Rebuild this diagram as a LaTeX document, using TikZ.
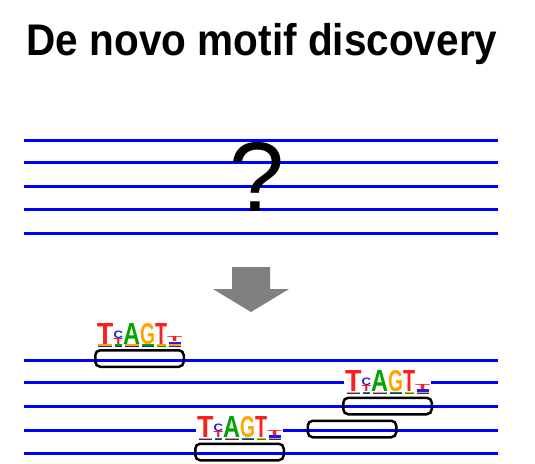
\documentclass[tikz,border=0pt]{standalone}
\usepackage{fontspec}
\setmainfont{Liberation Sans}
\usetikzlibrary{positioning}
\definecolor{seqblue}{RGB}{0,0,255}
\definecolor{logored}{RGB}{255,30,30}
\definecolor{logoblue}{RGB}{30,30,230}
\definecolor{logogreen}{RGB}{0,165,0}
\definecolor{logoorange}{RGB}{255,165,0}
\definecolor{arrowgray}{RGB}{128,128,128}
% one letter of the logo, stretched to width x height
\newcommand{\logoletter}[4]{\hbox{\resizebox{#2pt}{#3pt}{\textcolor{#1}{\bfseries #4}}}}
% thin band of tiny letters under the logo
\newcommand{\logoband}[3]{\hbox to #1pt{\hfil\textcolor{#2}{\rule{\dimexpr#1pt-3pt\relax}{1.2pt}}\hfil}%
  \hbox to #1pt{\hfil\textcolor{#3}{\rule{\dimexpr#1pt-3pt\relax}{1.3pt}}\hfil}}
\newcommand{\logocolumn}[1]{\vbox{\offinterlineskip #1}}
\newcommand{\motiflogo}{%
  \logocolumn{\logoletter{logored}{16.5}{21}{T}\logoband{16.5}{logoorange}{logoblue}}%
  \logocolumn{\logoletter{logoblue}{9.5}{7.5}{C}\logoletter{logored}{9.5}{6}{T}\logoband{9.5}{logogreen}{logoblue}}%
  \logocolumn{\logoletter{logogreen}{17}{21}{A}\logoband{17}{logoorange}{logoblue}}%
  \logocolumn{\logoletter{logoorange}{15}{21}{G}\logoband{15}{logogreen}{logoblue}}%
  \logocolumn{\logoletter{logored}{12}{21}{T}\logoband{12}{logoorange}{logogreen}}%
  \logocolumn{\logoletter{logored}{15}{5}{T}\logoband{15}{logoblue}{logoblue}\logoband{15}{logoorange}{logoblue}}%
}
\tikzset{
  seqline/.style={
    draw=seqblue,
    line width=3pt
  },
  sitebox/.style={
    rectangle,
    rounded corners=5pt,
    draw=black,
    line width=2.5pt,
    minimum width=88.5pt,
    minimum height=16.5pt,
    inner sep=0pt
  },
  logo/.style={
    rectangle,
    fill=white,
    inner xsep=1pt,
    inner ysep=0pt
  },
  bigarrow/.style={
    fill=arrowgray,
    draw=none
  }
}
\begin{document}
\begin{tikzpicture}[x=1pt,y=-1pt]
  \useasboundingbox (0,0) rectangle (535,463);
  \node[font=\bfseries\fontsize{44.3}{50}\selectfont, anchor=base, inner sep=0pt] (title) at (262,55) {\scalebox{0.915}[1]{De novo motif discovery}};

  % unaligned sequences
  \foreach \y in {140.7,162.5,186.3,209.3,233.3}
    \draw[seqline] (24,\y) -- (497.5,\y);
  \node[font=\fontsize{99}{110}\selectfont, anchor=base, inner sep=0pt] (question) at (257,211) {?};

  \fill[bigarrow] (232,267) -- (270,267) -- (270,289) -- (289,289) -- (251,312)
    -- (213,289) -- (232,289) -- cycle;

  % sequences with the found sites
  \foreach \y in {360.3,382.3,406.3,430.3,453.3}
    \draw[seqline] (24,\y) -- (497.5,\y);

  \node[sitebox] (boxA) at (139.5,358.5) {};
  \node[sitebox] (boxB) at (387.5,406) {};
  \node[sitebox] (boxC) at (352,429) {};
  \node[sitebox] (boxD) at (239.5,452) {};

  \node[logo, above=2pt of boxA] (logoA) {\motiflogo};
  \node[logo, above=2pt of boxB] (logoB) {\motiflogo};
  \node[logo, above=2pt of boxD] (logoD) {\motiflogo};
\end{tikzpicture}
\end{document}
